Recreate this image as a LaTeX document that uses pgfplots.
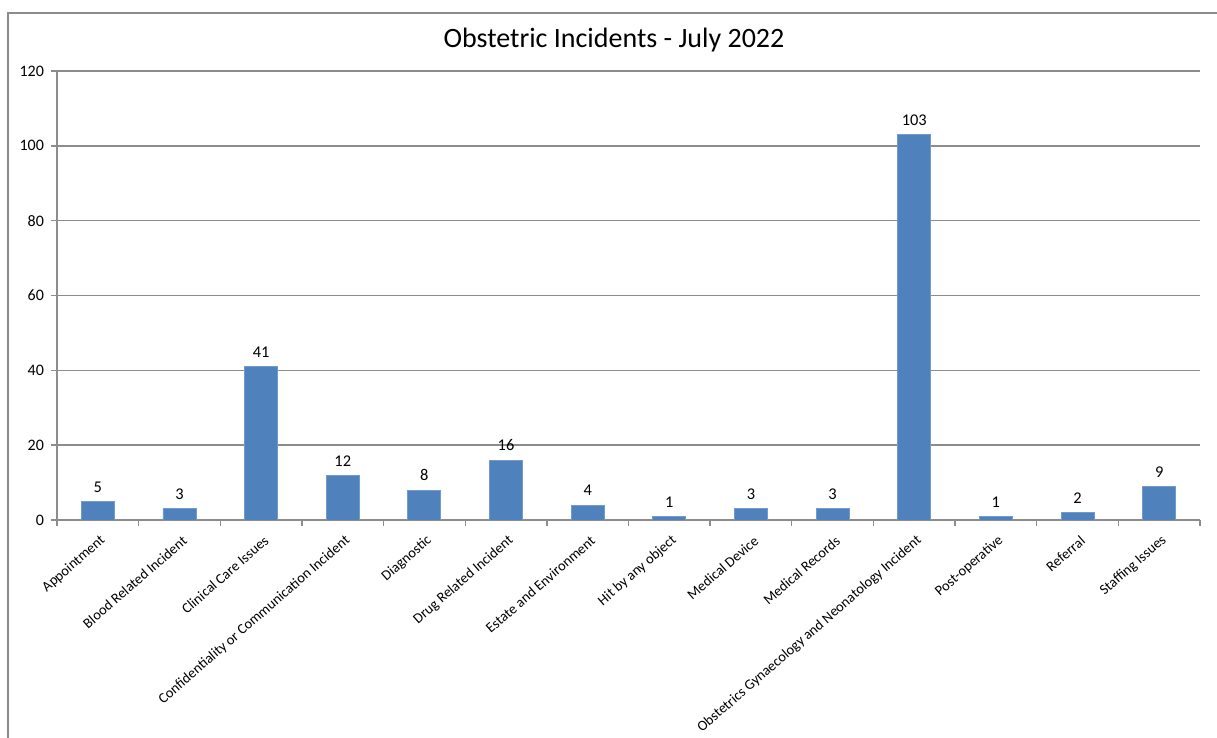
\documentclass[border=0pt]{standalone}
\usepackage{pgfplots}
\pgfplotsset{compat=1.18}
\usepackage{fontspec}
\setmainfont{Carlito}
\definecolor{barblue}{HTML}{4F81BD}
\definecolor{gridgray}{HTML}{8C8C8C}
\begin{document}
\begin{tikzpicture}
\path[use as bounding box] (-28.5pt,-109pt) rectangle (580pt,260pt);
\draw[gridgray,line width=0.9pt] (-24.5pt,-109pt) -- (-24.5pt,253.5pt) -- (580pt,253.5pt);
\node[font=\fontsize{14}{16}\selectfont] at (278.5pt,240pt) {Obstetric Incidents - July 2022};
\begin{axis}[
  at={(0,0)}, anchor=south west,
  scale only axis,
  width=571.5pt, height=224.5pt,
  xmin=-0.5, xmax=13.5,
  ymin=0, ymax=120,
  ytick={0,20,...,120},
  xtick={0,...,13},
  minor xtick={-0.5,0.5,...,13.5},
  major x tick style={draw=none},
  minor x tick style={gridgray,line width=0.7pt},
  minor tick length=3pt,
  major tick length=3pt,
  tick align=outside,
  ytick style={gridgray,line width=0.7pt},
  xticklabels={Appointment,Blood Related Incident,Clinical Care Issues,Confidentiality or Communication Incident,Diagnostic,Drug Related Incident,Estate and Environment,Hit by any object,Medical Device,Medical Records,Obstetrics Gynaecology and Neonatology Incident,Post-operative,Referral,Staffing Issues},
  xticklabel style={rotate=41, anchor=east, font=\fontsize{7.2}{9}\selectfont, inner sep=1pt, yshift=-6.5pt, xshift=-1pt},
  yticklabel style={font=\fontsize{8}{9}\selectfont},
  /pgf/number format/assume math mode=true,
  axis x line*=bottom, axis y line*=left,
  axis line style={gridgray,line width=0.8pt},
  ymajorgrids,
  grid style={gridgray,line width=0.7pt},
  nodes near coords,
  every node near coord/.append style={font=\fontsize{8.2}{9}\selectfont, black, yshift=1pt},
]
\addplot[ybar, bar width=16.5pt, fill=barblue, draw=barblue!80!white] coordinates {
(0,5) (1,3) (2,41) (3,12) (4,8) (5,16) (6,4) (7,1) (8,3) (9,3) (10,103) (11,1) (12,2) (13,9)
};
\end{axis}
\end{tikzpicture}
\end{document}
